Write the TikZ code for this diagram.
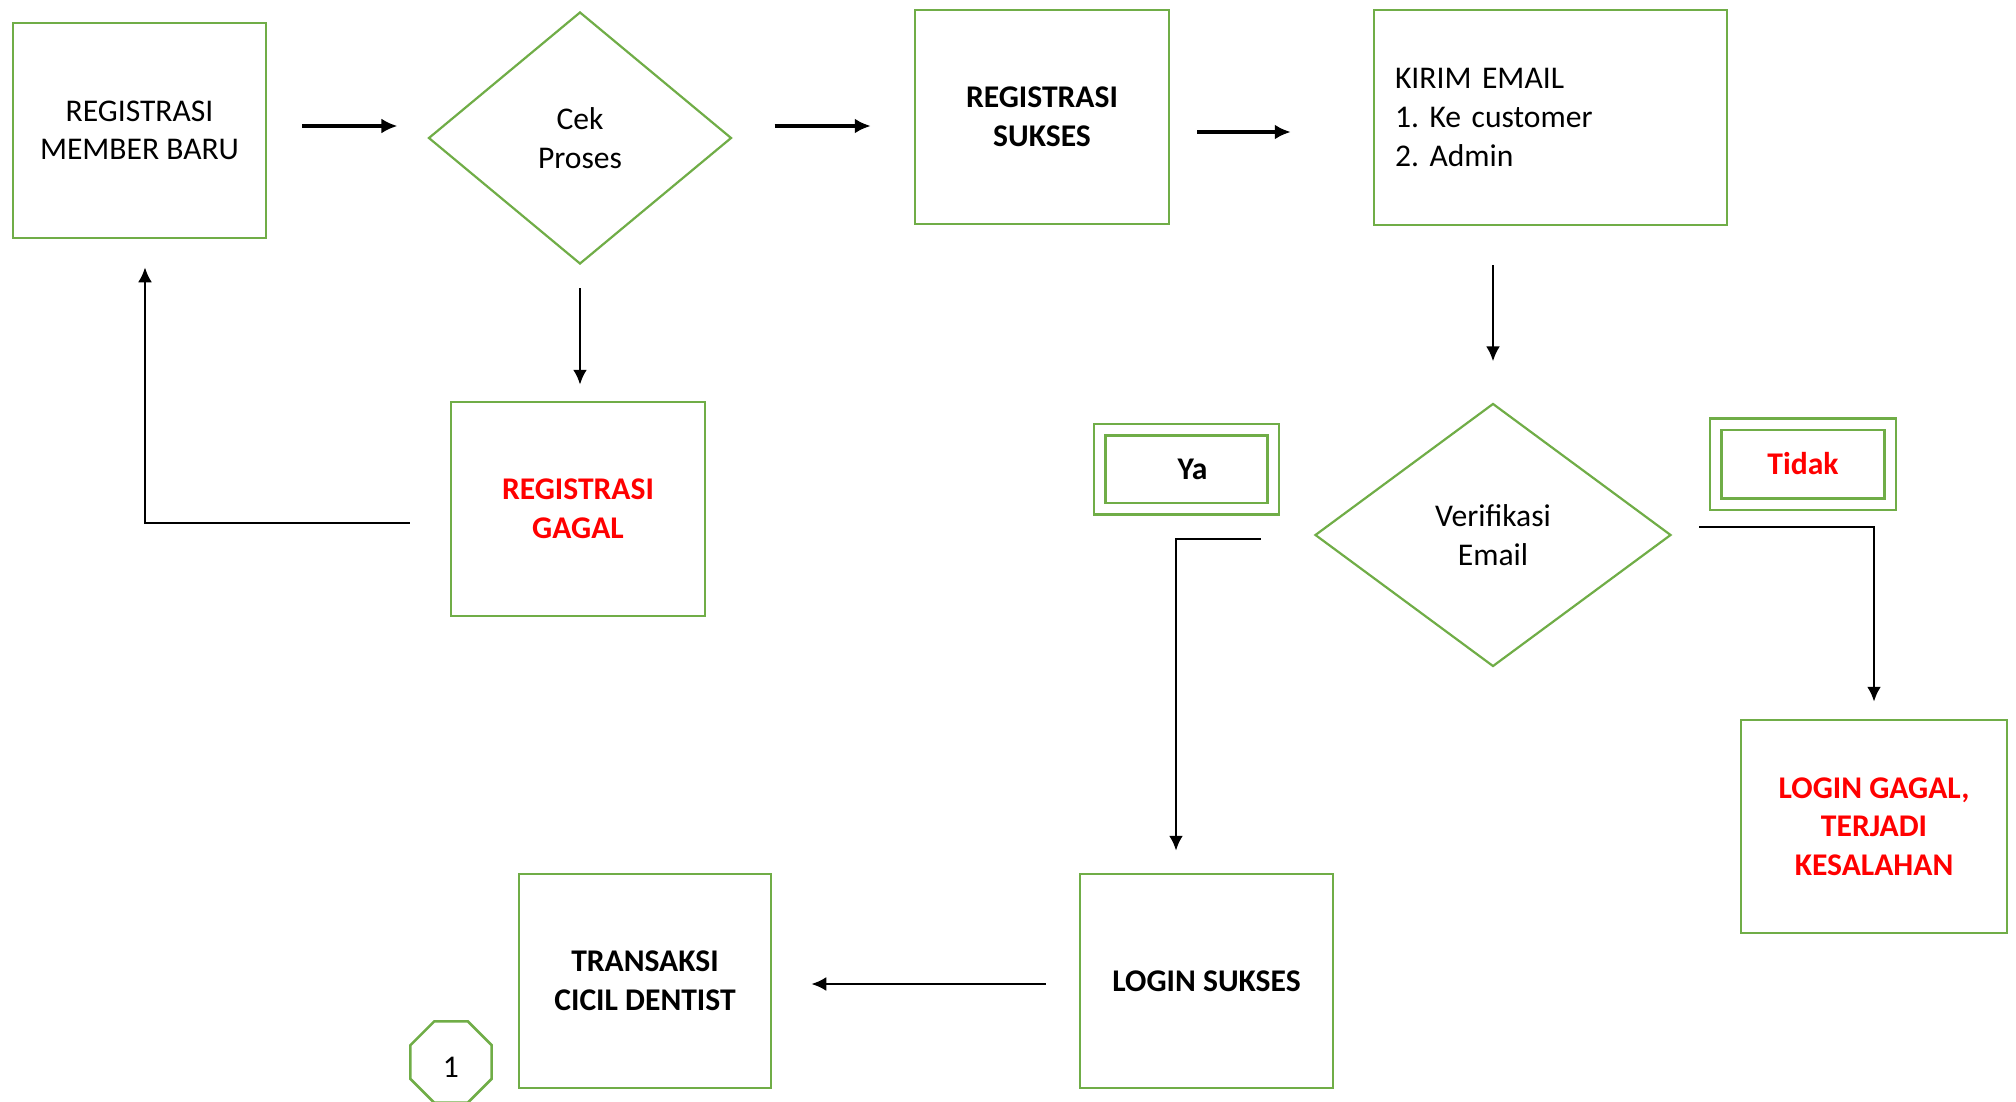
\documentclass[tikz,border=0pt]{standalone}
\usepackage{fontspec}
\setmainfont{Carlito}
\usepackage{xcolor}
\usetikzlibrary{shapes.geometric, arrows.meta}
\definecolor{boxgreen}{HTML}{70AD47}
\definecolor{txtred}{HTML}{FF0000}
\frenchspacing
\newcommand{\flowfont}{\fontsize{31.6}{38.6}\selectfont}

\tikzset{
  box/.style={draw=boxgreen, line width=2.5pt, inner sep=0pt, align=center, font=\flowfont},
  boldbox/.style={box, font=\flowfont\bfseries},
  decision/.style={diamond, draw=boxgreen, line width=2.2pt, inner sep=0pt, align=center, font=\flowfont},
  label box/.style={draw=boxgreen, line width=2.5pt, double=white, double distance=9pt, inner sep=0pt, font=\flowfont\bfseries},
  bigarrow/.style={line width=4pt, -{Latex[length=16pt, width=15pt]}},
  flow/.style={line width=2.8pt, -{Latex[length=15pt, width=14pt]}},
}

\begin{document}
\begin{tikzpicture}[x=1pt, y=-1pt]
      \useasboundingbox (0,0) rectangle (2016,1102);

      % Top row
      \node[box, minimum width=253pt, minimum height=215pt] (reg) at (139.5,130.5) {REGISTRASI\\MEMBER BARU};
      \node[decision, minimum width=303pt, minimum height=252pt] (cek) at (580,138) {Cek\\Proses};
      \node[boldbox, minimum width=254pt, minimum height=214pt] (sukses) at (1042,117) {REGISTRASI\\SUKSES};
      \node[box, minimum width=353pt, minimum height=215pt, text width=311pt, inner xsep=21pt, align=left] (kirim) at (1550.5,117.5) {KIRIM EMAIL\\1. Ke customer\\2. Admin};

      % Middle row
      \node[boldbox, minimum width=254pt, minimum height=214pt, text=txtred] (gagal) at (578,509) {REGISTRASI\\GAGAL};
      \node[decision, minimum width=356pt, minimum height=263pt] (verif) at (1493,535) {Verifikasi\\Email};
      \node[label box, minimum width=173.5pt, minimum height=79pt] (ya) at (1186.5,469) {\hspace{12pt}Ya};
      \node[label box, minimum width=174.5pt, minimum height=80pt, text=txtred] (tidak) at (1803,464) {Tidak};

      % Bottom row
      \node[boldbox, minimum width=266pt, minimum height=213pt, text=txtred] (loggagal) at (1874,826.5) {LOGIN GAGAL,\\TERJADI\\KESALAHAN};
      \node[boldbox, minimum width=253pt, minimum height=214pt] (logsukses) at (1206.5,981) {LOGIN SUKSES};
      \node[boldbox, minimum width=252pt, minimum height=214pt] (transaksi) at (645,981) {TRANSAKSI\\CICIL DENTIST};
      \node[regular polygon, regular polygon sides=8, draw=boxgreen, line width=2.5pt, minimum size=88pt, inner sep=0pt, text height=30pt, text depth=0pt, font=\flowfont] (hal) at (451,1062) {1};

      % Connectors
      \draw[bigarrow, shorten <=35pt, shorten >=30pt] ([yshift=4.5pt]reg.east) -- ([yshift=4.5pt]reg.east -| cek.west);
      \draw[bigarrow, shorten <=42pt, shorten >=43pt] ([yshift=12pt]cek.east) -- ([yshift=12pt]cek.east -| sukses.west);
      \draw[bigarrow, shorten <=27pt, shorten >=82pt] ([yshift=-15pt]sukses.east) -- ([yshift=-15pt]sukses.east -| kirim.west);
      \draw[flow, shorten <=39pt, shorten >=41pt] (kirim.south -| verif.north) -- (verif.north);
      \draw[flow, shorten <=23pt, shorten >=16pt] (cek.south) -- (cek.south |- gagal.north);
      \draw[flow, shorten <=40pt, shorten >=28pt] ([yshift=-14pt]gagal.west) -| ([xshift=5.5pt]reg.south);
      \draw[flow, shorten <=53pt, shorten >=22pt] ([yshift=-4pt]verif.west) -| ([xshift=-30.5pt]logsukses.north);
      \draw[flow, shorten <=27pt, shorten >=17pt] ([yshift=8pt]verif.east) -| (loggagal.north);
      \draw[flow, shorten <=33pt, shorten >=39pt] ([yshift=-3pt]logsukses.west) -- ([yshift=-3pt]logsukses.west -| transaksi.east);
\end{tikzpicture}
\end{document}
